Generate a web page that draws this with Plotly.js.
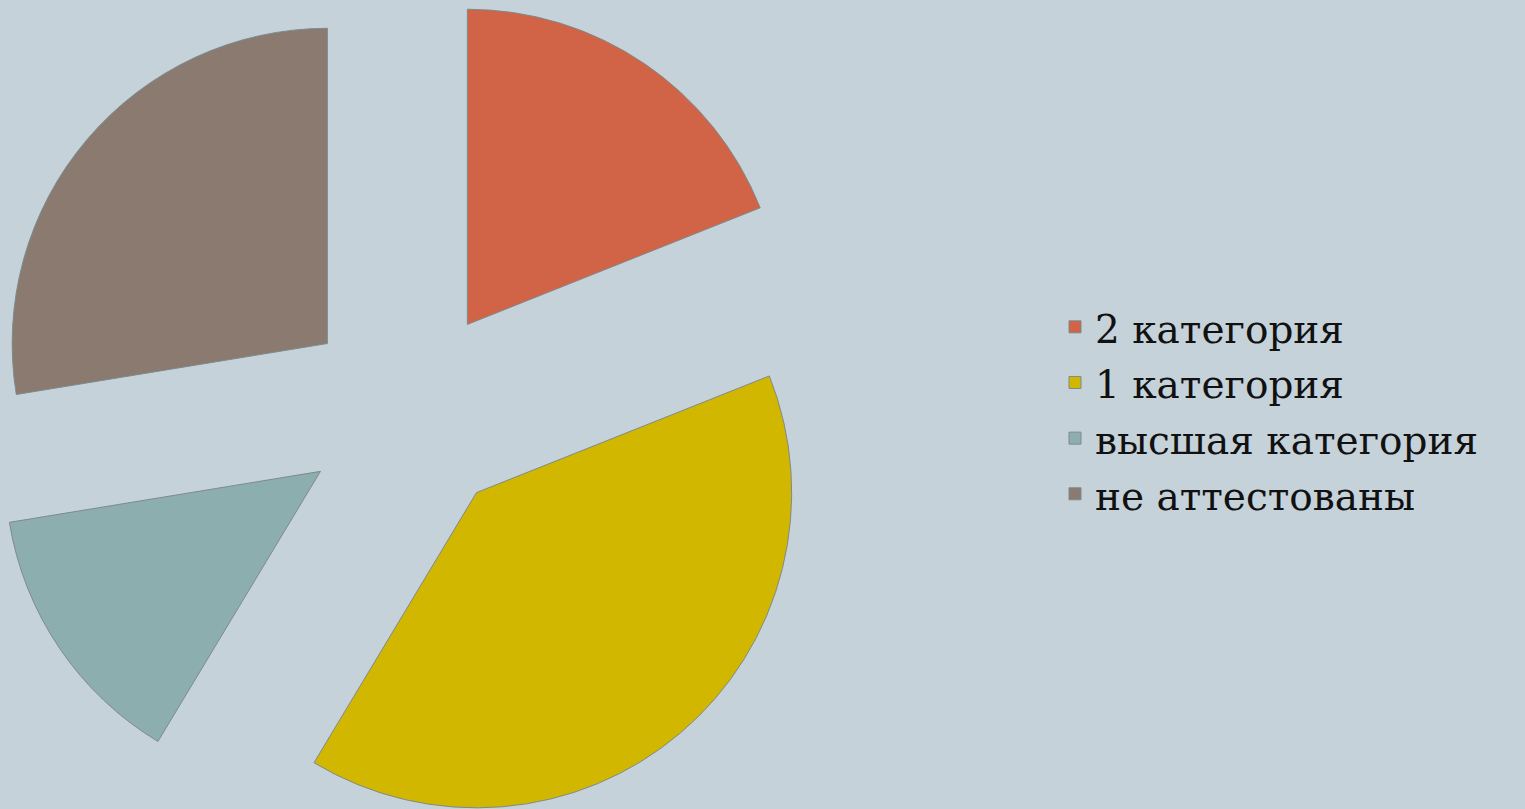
<!DOCTYPE html>
<html>
<head>
<meta charset="utf-8">
<script src="https://cdn.plot.ly/plotly-3.0.1.min.js"></script>
<style>
  html, body { margin: 0; padding: 0; width: 1525px; height: 809px; overflow: hidden; background: #C5D2D9; }
  #chart { position: absolute; left: -13px; top: -9px; width: 1538px; height: 842px; }
</style>
</head>
<body>
<div id="chart"></div>
<script>
// Data
const categories = ["2 категория", "1 категория", "высшая категория", "не аттестованы"];
const values = [11, 23, 8, 16];
const colors = ["#D16347", "#D1B700", "#8DAEAE", "#8A7A70"];

const W = 1538, H = 842;
const labels = categories.map(c => '<span style="font-size:39px">' + c + '</span>');

const trace = {
  type: "pie",
  labels: labels,
  values: values,
  sort: false,
  direction: "clockwise",
  rotation: 0,
  pull: [0.3356, 0.3356, 0.3356, 0.3356],
  marker: { colors: colors, line: { color: "#7E8A8C", width: 1 } },
  textinfo: "none",
  hoverinfo: "label+value",
  domain: { x: [0, H / W], y: [0, 1] }
};

const layout = {
  width: W,
  height: H,
  margin: { l: 0, r: 0, t: 0, b: 0 },
  paper_bgcolor: "#C5D2D9",
  plot_bgcolor: "#C5D2D9",
  showlegend: true,
  legend: {
    x: (1055 + 13) / W,
    xanchor: "left",
    y: 1 - (294 + 9) / H,
    yanchor: "top",
    font: { family: "DejaVu Serif", size: 40.5, color: "#111111" },
    bgcolor: "rgba(0,0,0,0)",
    itemclick: false
  }
};

Plotly.newPlot("chart", [trace], layout, { displayModeBar: false, staticPlot: true });
</script>
</body>
</html>
